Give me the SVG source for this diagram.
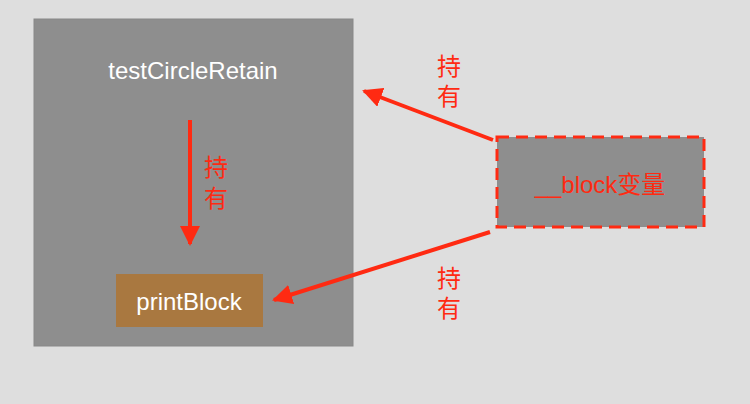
<svg xmlns="http://www.w3.org/2000/svg" width="750" height="404" viewBox="0 0 750 404">
<style>
.t{font-family:"Liberation Sans","Noto Sans CJK SC",sans-serif;font-size:24px;text-anchor:middle}
.w{fill:#ffffff}
.r{fill:#ff2a12}
.c{stroke:#ff2a12;stroke-width:4;fill:none}
</style>
<defs>
<marker id="ah" viewBox="0 0 10 10" refX="9" refY="5" markerWidth="5" markerHeight="5" orient="auto" markerUnits="strokeWidth">
<path d="M0,0 L10,5 L0,10 z" fill="#ff2a12"/>
</marker>
</defs>
<rect width="750" height="404" fill="#dedede"/>
<g id="testCircleRetain">
<rect x="34" y="19" width="319" height="327" fill="#8e8e8e" stroke="#888" stroke-width="1"/>
<text class="t w" x="193" y="79">testCircleRetain</text>
</g>
<g id="printBlock">
<rect x="116" y="274" width="147" height="53" fill="#a97840"/>
<text class="t w" x="189" y="310">printBlock</text>
</g>
<g id="blockVar">
<rect x="497" y="137" width="207" height="90" fill="#8e8e8e" stroke="#ff2a12" stroke-width="3" stroke-dasharray="12,7"/>
<text class="t r" x="600" y="193">__block变量</text>
</g>
<g id="connectors">
<line class="c" x1="190" y1="120" x2="190" y2="244" marker-end="url(#ah)"/>
<line class="c" x1="493" y1="140" x2="364" y2="91" marker-end="url(#ah)"/>
<line class="c" x1="490" y1="232" x2="274" y2="300" marker-end="url(#ah)"/>
<text class="t r" x="216" y="176">持</text>
<text class="t r" x="216" y="207">有</text>
<text class="t r" x="449" y="75">持</text>
<text class="t r" x="449" y="105">有</text>
<text class="t r" x="449" y="287">持</text>
<text class="t r" x="449" y="317">有</text>
</g>
</svg>
